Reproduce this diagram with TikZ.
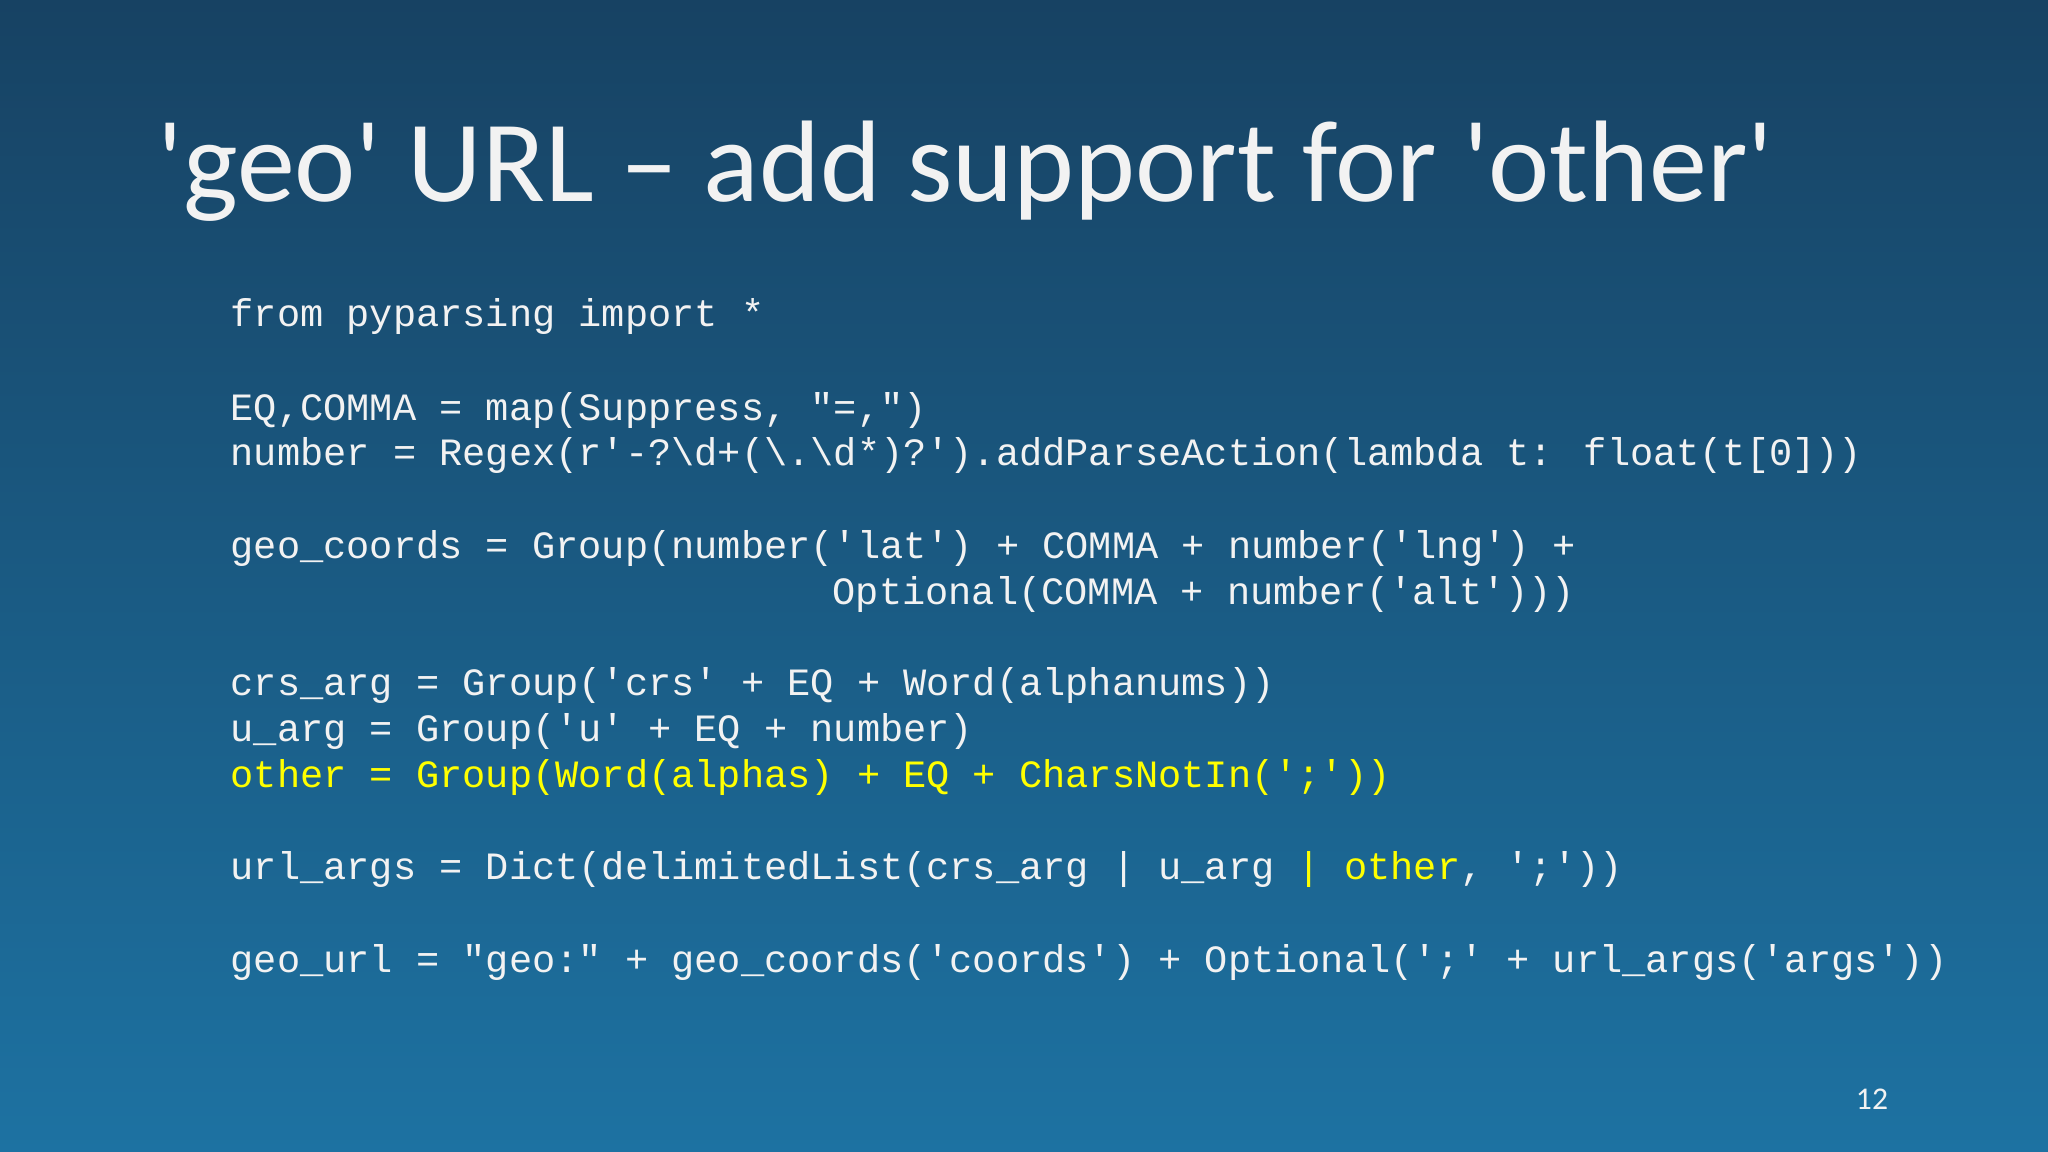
\documentclass[tikz,border=0pt]{standalone}
\usepackage{fontspec}
\setmainfont{Carlito}
\newfontfamily\codefont{Liberation Mono}
\usetikzlibrary{positioning}
\definecolor{bgTop}{HTML}{174263}
\definecolor{bgBot}{HTML}{1D72A2}
\definecolor{txtColor}{HTML}{F2F2F2}
\definecolor{hiColor}{HTML}{FFFF00}
\tikzset{
	codeline/.style={anchor=base west, inner sep=0, text=txtColor, font=\codefont\fontsize{11}{13}\selectfont},
	titletext/.style={anchor=base west, inner sep=0, text=txtColor, font=\fontsize{33}{40}\selectfont}
}
\newcommand{\bs}{\textbackslash}
\newcommand{\hl}[1]{\textcolor{hiColor}{#1}}
\newcommand{\sq}{\textquotesingle}
\begin{document}
\begin{tikzpicture}
			\shade[top color=bgTop, bottom color=bgBot] (0,0) rectangle (20.48,11.52);
			\useasboundingbox (0,0) rectangle (20.48,11.52);
			\node[titletext] (title) at (1.57, 9.50) {\sq geo\sq{} URL -- add support for \sq other\sq};
			\node[codeline] (l1) at (2.30, 8.255) {from pyparsing import *};
			\node[codeline] (l2) at (2.30, 7.315) {EQ,COMMA = map(Suppress, "=,")};
			\node[codeline] (l3) at (2.30, 6.86) {number = Regex(r'-?\bs d+(\bs.\bs d*)?').addParseAction(lambda t: float(t[0]))};
			\node[codeline] (l4) at (2.30, 5.93) {geo\_coords = Group(number('lat') + COMMA + number('lng') +};
			\node[codeline] (l5) at (8.32, 5.473) {Optional(COMMA + number('alt')))};
			\node[codeline] (l6) at (2.30, 4.56) {crs\_arg = Group('crs' + EQ + Word(alphanums))};
			\node[codeline] (l7) at (2.30, 4.10) {u\_arg = Group('u' + EQ + number)};
			\node[codeline] (l8) at (2.30, 3.645) {\hl{other = Group(Word(alphas) + EQ + CharsNotIn(';'))}};
			\node[codeline] (l9) at (2.30, 2.72) {url\_args = Dict(delimitedList(crs\_arg | u\_arg \hl{| other}, ';'))};
			\node[codeline] (l10) at (2.30, 1.79) {geo\_url = "geo:" + geo\_coords('coords') + Optional(';' + url\_args('args'))};
			\node[anchor=base, inner sep=0, text=txtColor, font=\fontsize{9}{11}\selectfont] (pnum) at (18.72, 0.42) {12};
		\end{tikzpicture}
\end{document}
